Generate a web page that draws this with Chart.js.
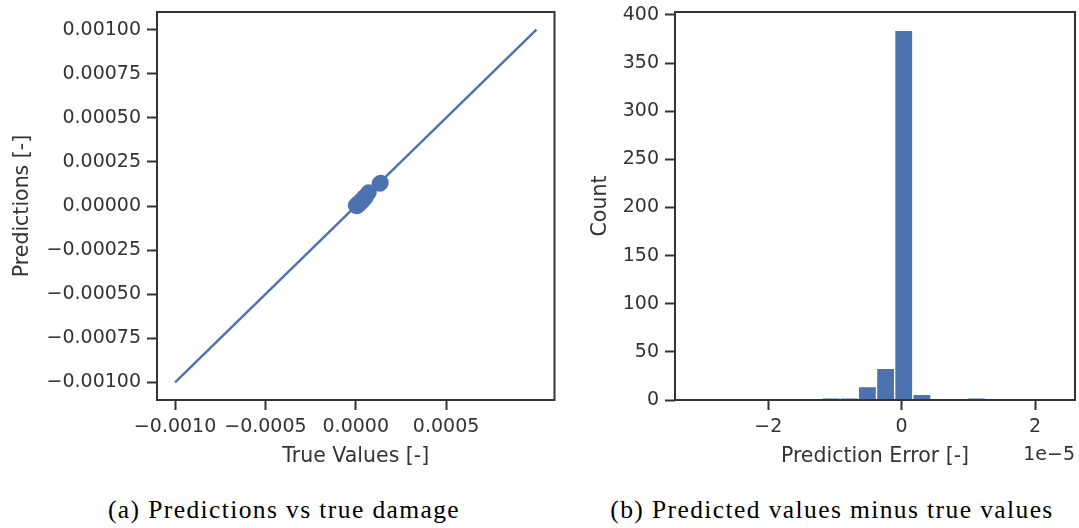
<!DOCTYPE html>
<html>
<head>
<meta charset="utf-8">
<script src="https://cdn.jsdelivr.net/npm/chart.js@4.4.0/dist/chart.umd.min.js"></script>
<style>
    body { margin: 0; background: #fff; width: 1079px; height: 528px; position: relative; overflow: hidden; }
    #leftChart { position: absolute; left: 0; top: 0; }
    #rightChart { position: absolute; left: 570px; top: 0; }
    .caption {
        position: absolute; top: 497px; transform: translateX(-50%); line-height: 1;
        font-family: 'Liberation Serif', serif; font-size: 25.5px; letter-spacing: 1.4px;
        color: #000; white-space: nowrap;
    }
</style>
</head>
<body>
<canvas id="leftChart" width="570" height="480"></canvas>
<canvas id="rightChart" width="509" height="480"></canvas>
<div class="caption" style="left:284px">(a) Predictions vs true damage</div>
<div class="caption" style="left:832px">(b) Predicted values minus true values</div>
<script>
// (a) predictions vs true values
const trueValues  = [0.000000, 0.000006, 0.000014, 0.000020, 0.000030, 0.000036, 0.000046, 0.000053, 0.000064, 0.000072, 0.000132, 0.000138];
const predictions = [0.000004, -0.000002, 0.000016, 0.000010, 0.000032, 0.000026, 0.000050, 0.000046, 0.000066, 0.000078, 0.000126, 0.000132];
const identityLine = [-0.001, 0.001];
const leftXTicks = [-0.001, -0.0005, 0, 0.0005];
const leftYTicks = [-0.001, -0.00075, -0.0005, -0.00025, 0, 0.00025, 0.0005, 0.00075, 0.001];

// (b) histogram of prediction error, bin centres in units of 1e-5
const binCenters = [-2.966, -2.694, -2.421, -2.149, -1.876, -1.604, -1.331, -1.059, -0.786, -0.514,
                    -0.241, 0.031, 0.304, 0.576, 0.849, 1.121, 1.394, 1.666, 1.939, 2.211];
const binCounts  = [1, 0, 0, 0, 0, 0, 0, 2, 2, 14, 33, 384, 6, 0, 0, 2, 0, 0, 0, 1];
const rightXTicks = [-2, 0, 2];
const rightYTicks = [0, 50, 100, 150, 200, 250, 300, 350, 400];

const BLUE = '#4c72b0';
const INK = '#333333';
Chart.defaults.font.family = "'DejaVu Sans', sans-serif";

const minus = s => s.replace('-', '\u2212');

// box around the plot area
const framePlugin = {
    id: 'frame',
    afterDraw(chart) {
        const a = chart.chartArea;
        const ctx = chart.ctx;
        ctx.save();
        ctx.strokeStyle = INK;
        ctx.lineWidth = 2;
        ctx.strokeRect(a.left, a.top, a.right - a.left, a.bottom - a.top);
        ctx.restore();
    }
};

function makeAxis(min, max, ticks, fmt, title, size, titlePad) {
    return {
        type: 'linear',
        min: min,
        max: max,
        offset: false,
        afterBuildTicks: s => { s.ticks = ticks.map(v => ({ value: v })); },
        afterFit: s => {
            if (s.isHorizontal()) s.height = size; else s.width = size;
            // plot area is placed by the layout padding only
            s.paddingTop = s.paddingBottom = s.paddingLeft = s.paddingRight = 0;
        },
        grid: { display: true, offset: false, drawOnChartArea: false, drawTicks: true, tickLength: 10, tickColor: INK, tickWidth: 2 },
        border: { display: false },
        ticks: { color: INK, font: { size: 19 }, padding: 6, autoSkip: false, maxRotation: 0, callback: fmt },
        title: { display: true, text: title, color: INK, font: { size: 20.5 }, padding: titlePad }
    };
}

new Chart(document.getElementById('leftChart'), {
    type: 'scatter',
    data: {
        datasets: [{
            data: trueValues.map((v, i) => ({ x: v, y: predictions[i] })),
            backgroundColor: BLUE,
            borderColor: BLUE,
            pointRadius: 8,
            borderWidth: 0
        }, {
            type: 'line',
            data: identityLine.map(v => ({ x: v, y: v })),
            borderColor: BLUE,
            borderWidth: 2.4,
            pointRadius: 0,
            fill: false
        }]
    },
    options: {
        responsive: false,
        animation: false,
        layout: { padding: { top: 12, right: 15.5, left: 0, bottom: 0 } },
        plugins: { legend: { display: false }, tooltip: { enabled: false } },
        scales: {
            x: makeAxis(-0.0011, 0.0011, leftXTicks, v => minus(v.toFixed(4)), 'True Values [-]', 80, { top: 4, bottom: 11 }),
            y: makeAxis(-0.0011, 0.0011, leftYTicks, v => minus(v.toFixed(5)), 'Predictions [-]', 157, { top: 10, bottom: 4 })
        }
    },
    plugins: [framePlugin]
});

new Chart(document.getElementById('rightChart'), {
    type: 'bar',
    data: {
        datasets: [{
            data: binCenters.map((c, i) => ({ x: c, y: binCounts[i] })),
            backgroundColor: BLUE,
            borderColor: '#ffffff',
            borderWidth: 1,
            barPercentage: 1,
            categoryPercentage: 1
        }]
    },
    options: {
        responsive: false,
        animation: false,
        layout: { padding: { top: 12, right: 4, left: 0, bottom: 0 } },
        plugins: { legend: { display: false }, tooltip: { enabled: false } },
        scales: {
            x: makeAxis(-3.4, 2.6, rightXTicks, v => minus(String(v)), 'Prediction Error [-]', 80, { top: 4, bottom: 11 }),
            y: makeAxis(0, 403, rightYTicks, v => String(v), 'Count', 105, { top: 18, bottom: 4 })
        }
    },
    plugins: [framePlugin, {
        id: 'offsetText',
        afterDraw(chart) {
            const ctx = chart.ctx;
            ctx.save();
            ctx.fillStyle = INK;
            ctx.font = "19px 'DejaVu Sans'";
            ctx.textAlign = 'right';
            ctx.textBaseline = 'middle';
            ctx.fillText('1e\u22125', chart.chartArea.right, 455);
            ctx.restore();
        }
    }]
});
</script>
</body>
</html>
